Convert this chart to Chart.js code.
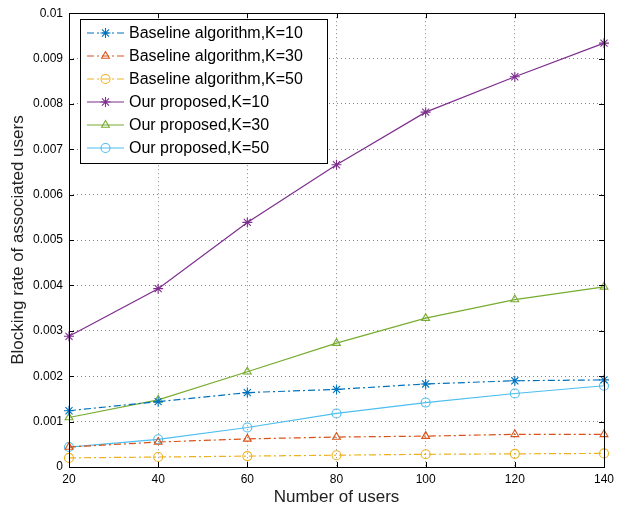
<!DOCTYPE html>
<html>
<head>
<meta charset="utf-8">
<script src="https://cdn.jsdelivr.net/npm/chart.js@4/dist/chart.umd.min.js"></script>
<style>
  html, body { margin: 0; padding: 0; background: #fff; }
  #wrap { width: 627px; height: 508px; }
</style>
</head>
<body>
<div id="wrap"><canvas id="c" width="627" height="508"></canvas></div>
<script>
// x axis: number of users
let users = [20, 40, 60, 80, 100, 120, 140];

// blocking rate
let baseK10 = [0.00124, 0.00144, 0.00164, 0.00171, 0.00183, 0.0019, 0.00192];
let baseK30 = [0.00044, 0.00055, 0.00062, 0.00066, 0.00068, 0.00072, 0.00072];
let baseK50 = [0.0002, 0.00022, 0.00024, 0.00026, 0.00028, 0.00029, 0.0003];
let oursK10 = [0.00288, 0.00393, 0.00539, 0.00666, 0.00782, 0.0086, 0.00934];
let oursK30 = [0.00109, 0.00148, 0.0021, 0.00273, 0.00328, 0.00369, 0.00397];
let oursK50 = [0.00044, 0.00061, 0.00087, 0.00118, 0.00142, 0.00162, 0.00179];

let seriesNames = [
  "Baseline algorithm,K=10",
  "Baseline algorithm,K=30",
  "Baseline algorithm,K=50",
  "Our proposed,K=10",
  "Our proposed,K=30",
  "Our proposed,K=50"
];
let yTicks = [0, 0.001, 0.002, 0.003, 0.004, 0.005, 0.006, 0.007, 0.008, 0.009, 0.01];

const FONT = "'Liberation Sans', Arial, Helvetica, sans-serif";
const dashDot = [7, 3, 2, 3];

function makeSet(label, values, color, shape, dash) {
  return {
    label: label,
    data: users.map((u, i) => ({ x: u, y: values[i] })),
    borderColor: color,
    backgroundColor: color,
    borderWidth: 1.2,
    borderDash: dash,
    pointStyle: shape,
    pointRadius: shape === 'star' ? 5 : 4.5,
    pointBorderColor: color,
    pointBackgroundColor: 'rgba(0,0,0,0)',
    pointBorderWidth: 1.1,
    tension: 0,
    clip: false
  };
}

let datasets = [
  makeSet(seriesNames[0], baseK10, '#0072BD', 'star', dashDot),
  makeSet(seriesNames[1], baseK30, '#D95319', 'triangle', dashDot),
  makeSet(seriesNames[2], baseK50, '#EDB120', 'circle', dashDot),
  makeSet(seriesNames[3], oursK10, '#7E2F8E', 'star', []),
  makeSet(seriesNames[4], oursK30, '#77AC30', 'triangle', []),
  makeSet(seriesNames[5], oursK50, '#4DBEEE', 'circle', [])
];

// box and inward tick marks like the original plot
const boxPlugin = {
  id: 'box',
  afterDatasetsDraw(chart) {
    const ctx = chart.ctx;
    const a = chart.chartArea;
    const xs = chart.scales.x, ys = chart.scales.y;
    ctx.save();
    ctx.strokeStyle = '#000';
    ctx.lineWidth = 1;
    ctx.beginPath();
    users.forEach(u => {
      const px = Math.round(xs.getPixelForValue(u)) + 0.5;
      ctx.moveTo(px, a.bottom); ctx.lineTo(px, a.bottom - 5);
      ctx.moveTo(px, a.top); ctx.lineTo(px, a.top + 5);
    });
    yTicks.forEach(v => {
      const py = Math.round(ys.getPixelForValue(v)) + 0.5;
      ctx.moveTo(a.left, py); ctx.lineTo(a.left + 5, py);
      ctx.moveTo(a.right, py); ctx.lineTo(a.right - 5, py);
    });
    ctx.stroke();
    ctx.strokeRect(Math.round(a.left) + 0.5, Math.round(a.top) + 0.5,
      Math.round(a.right - a.left), Math.round(a.bottom - a.top));
    ctx.restore();
  }
};

// legend in a framed box inside the plot
const legendPlugin = {
  id: 'boxLegend',
  afterDraw(chart) {
    const ctx = chart.ctx;
    const x0 = 80, y0 = 19, w = 247, h = 144, rowH = 23;
    ctx.save();
    ctx.fillStyle = '#fff';
    ctx.fillRect(x0, y0, w, h);
    ctx.strokeStyle = '#000';
    ctx.lineWidth = 1;
    ctx.strokeRect(x0 + 0.5, y0 + 0.5, w, h);
    chart.data.datasets.forEach((ds, i) => {
      const cy = y0 + 14 + i * rowH;
      ctx.strokeStyle = ds.borderColor;
      ctx.lineWidth = ds.borderWidth;
      ctx.setLineDash(ds.borderDash);
      ctx.beginPath();
      ctx.moveTo(87, cy); ctx.lineTo(124, cy);
      ctx.stroke();
      ctx.setLineDash([]);
      ctx.fillStyle = 'rgba(0,0,0,0)';
      ctx.strokeStyle = ds.pointBorderColor;
      ctx.lineWidth = ds.pointBorderWidth;
      Chart.helpers.drawPoint(ctx, {
        pointStyle: ds.pointStyle,
        radius: ds.pointRadius,
        borderWidth: ds.pointBorderWidth,
        rotation: 0
      }, 105.5, cy);
      ctx.fillStyle = '#000';
      ctx.font = '16px ' + FONT;
      ctx.textBaseline = 'middle';
      ctx.textAlign = 'left';
      ctx.fillText(ds.label, 129, cy + 1);
    });
    ctx.restore();
  }
};

let ctx = document.getElementById('c').getContext('2d');
let chart = new Chart(ctx, {
  type: 'line',
  data: { datasets: datasets },
  plugins: [boxPlugin, legendPlugin],
  options: {
    responsive: false,
    animation: false,
    layout: { padding: { left: 0, top: 9, right: 23, bottom: 0 } },
    plugins: { legend: { display: false }, tooltip: { enabled: false } },
    scales: {
      x: {
        type: 'linear',
        min: 20, max: 140,
        afterBuildTicks: s => { s.ticks = users.map(v => ({ value: v })); },
        afterFit: s => { s.height = 41; },
        grid: { color: '#888', lineWidth: 1, drawTicks: false },
        border: { display: false, dash: [1, 3] },
        ticks: { color: '#000', padding: 5, font: { family: FONT, size: 12 } },
        title: {
          display: true, text: 'Number of users', color: '#222',
          padding: { top: 0, bottom: 0 }, font: { family: FONT, size: 17 }
        }
      },
      y: {
        type: 'linear',
        min: 0, max: 0.01,
        afterBuildTicks: s => { s.ticks = yTicks.map(v => ({ value: v })); },
        afterFit: s => { s.width = 69; },
        grid: { color: '#888', lineWidth: 1, drawTicks: false },
        border: { display: false, dash: [1, 3] },
        ticks: {
          color: '#000', padding: 6, font: { family: FONT, size: 12 },
          callback: v => String(Number(v.toFixed(3)))
        },
        title: {
          display: true, text: 'Blocking rate of associated users', color: '#222',
          padding: { top: 8, bottom: 0 }, font: { family: FONT, size: 17 }
        }
      }
    }
  }
});
</script>
</body>
</html>
